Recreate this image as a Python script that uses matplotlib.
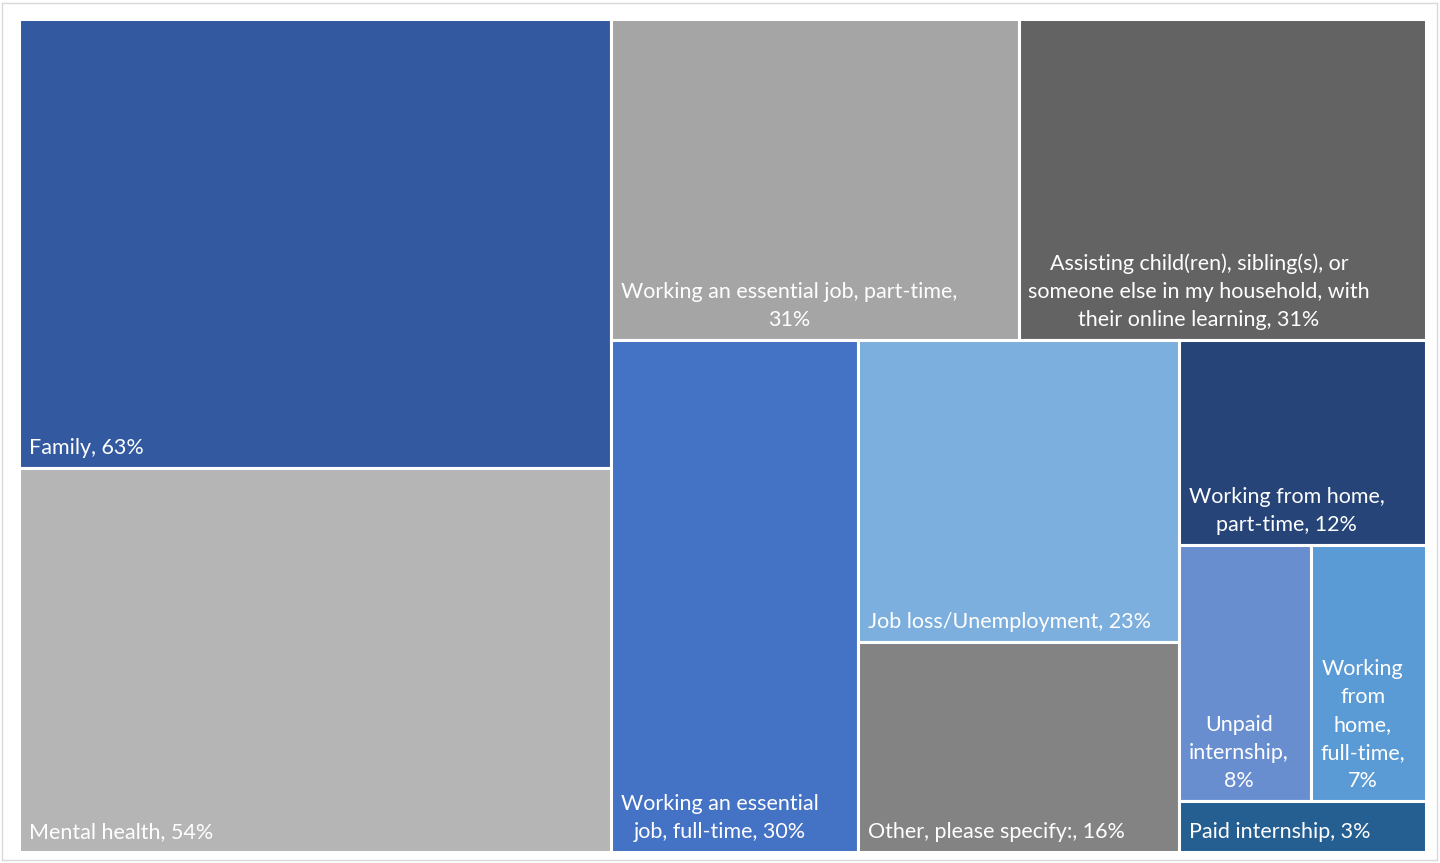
import matplotlib
matplotlib.use("Agg")
import matplotlib.pyplot as plt
from matplotlib.patches import Rectangle

# Share of respondents naming each responsibility (%), largest first
names = [
    "Family",
    "Mental health",
    "Working an essential job, part-time",
    "Assisting child(ren), sibling(s), or\nsomeone else in my household, with\ntheir online learning",
    "Working an essential\njob, full-time",
    "Job loss/Unemployment",
    "Other, please specify:",
    "Working from home,\npart-time",
    "Unpaid\ninternship",
    "Working\nfrom\nhome,\nfull-time",
    "Paid internship",
]
values = [63, 54, 31, 31, 30, 23, 16, 12, 8, 7, 3]
colors = [
    "#335AA1", "#B5B5B5", "#A5A5A5", "#636363", "#4472C4", "#7CAFDD",
    "#838383", "#264478", "#698ED0", "#5B9BD5", "#255E91",
]
# percentage goes on its own line for these tiles
pct_newline = [False, False, True, False, False, False, False, False, True, True, False]

# how many tiles go in each strip of the squarified layout
strips = [2, 2, 1, 2, 1, 2, 1]

W, H = 1407.0, 833.0


def strip_layout(vals, counts, x, y, w, h):
    rects = []
    i = 0
    for n in counts:
        chunk = vals[i:i + n]
        rest = sum(vals[i:])
        frac = sum(chunk) / rest
        if w >= h:
            # column along the left edge
            sw = w * frac
            yy = y
            for v in chunk:
                hh = h * v / sum(chunk)
                rects.append((x, yy, sw, hh))
                yy += hh
            x += sw
            w -= sw
        else:
            # row along the top edge
            sh = h * frac
            xx = x
            for v in chunk:
                ww = w * v / sum(chunk)
                rects.append((xx, y, ww, sh))
                xx += ww
            y += sh
            h -= sh
        i += n
    return rects


fig = plt.figure(figsize=(14.4, 8.63), dpi=100)
fig.patch.set_facecolor("white")

# thin light frame around the chart area
frame = fig.add_axes([2 / 1440, 3 / 863, 1435 / 1440, 857 / 863])
frame.set_xticks([])
frame.set_yticks([])
for s in frame.spines.values():
    s.set_color("#D9D9D9")
    s.set_linewidth(1.0)

ax = fig.add_axes([19 / 1440, 11 / 863, W / 1440, H / 863])
ax.set_xlim(0, W)
ax.set_ylim(H, 0)
ax.axis("off")

rects = strip_layout(values, strips, 0, 0, W, H)
for (x, y, w, h), name, v, c, nl in zip(rects, names, values, colors, pct_newline):
    ax.add_patch(Rectangle((x, y), w, h, facecolor=c, edgecolor="white", linewidth=2.2))
    label = f"{name},{chr(10) if nl else ' '}{v}%"
    ax.annotate(label, xy=(x, y + h), xytext=(7, 7), textcoords="offset points",
                ha="left", va="bottom", multialignment="center",
                color="white", fontsize=15.5, family=["Lato", "DejaVu Sans"],
                linespacing=1.5)

fig.savefig("out.png", dpi=100, facecolor="white")
